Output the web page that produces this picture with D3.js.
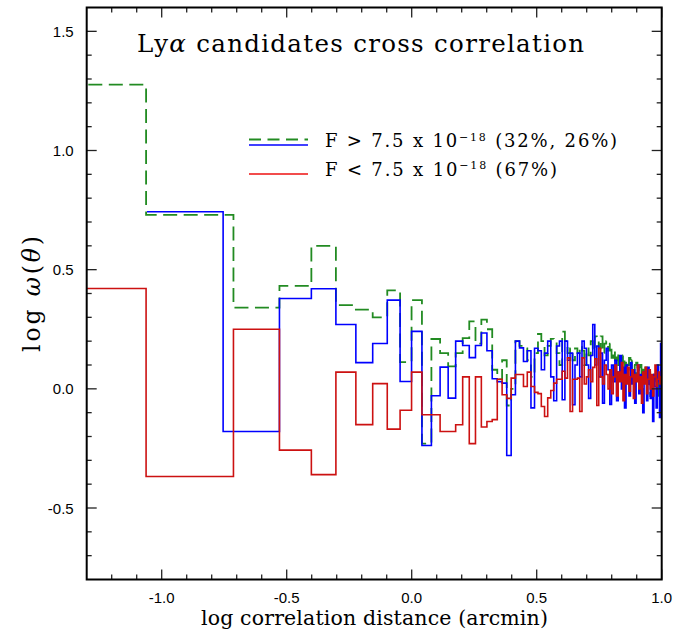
<!DOCTYPE html>
<html><head><meta charset="utf-8">
<script src="https://cdn.jsdelivr.net/npm/d3@7"></script>
<style>body{margin:0;background:#fff}</style>
</head><body><svg id="c" width="688" height="631"></svg>
<script>
// bin centres (arcmin)
const separations = [0.05,0.15,0.25,0.35,0.45,0.55,0.65,0.75,0.85,0.95,
1.05,1.15,1.25,1.35,1.45,1.55,1.65,1.75,1.85,1.95,
2.05,2.15,2.25,2.35,2.45,2.55,2.65,2.75,2.85,2.95,
3.05,3.15,3.25,3.35,3.45,3.55,3.65,3.75,3.85,3.95,
4.05,4.15,4.25,4.35,4.45,4.55,4.65,4.75,4.85,4.95,
5.05,5.15,5.25,5.35,5.45,5.55,5.65,5.75,5.85,5.95,
6.05,6.15,6.25,6.35,6.45,6.55,6.65,6.75,6.85,6.95,
7.05,7.15,7.25,7.35,7.45,7.55,7.65,7.75,7.85,7.95,
8.05,8.15,8.25,8.35,8.45,8.55,8.65,8.75,8.85,8.95,
9.05,9.15,9.25,9.35,9.45,9.55,9.65,9.75,9.85,9.95];
const blueFirstSeparation = 0.124;
const blueSeparations = [blueFirstSeparation].concat(separations.slice(2));

const greenValues = [1.276,0.73,0.341,0.432,0.60,0.351,0.332,0.30,0.413,0.112,
0.372,-0.23,0.209,0.15,0.094,0.15,0.213,0.283,0.19,0.29,
0.25,0.08,0.04,0.12,-0.07,0.0,0.2,0.18,0.17,0.12,
0.05,0.15,0.23,0.2,0.14,0.18,0.21,0.2,0.15,0.1,
0.24,0.2,0.15,0.17,0.12,0.17,0.15,0.18,0.16,0.1,
0.17,0.14,0.2,0.16,0.22,0.2,0.17,0.22,0.15,0.19,
0.2,0.16,0.19,0.13,0.16,0.12,0.15,0.1,0.13,0.11,
0.14,0.09,0.12,0.1,0.13,0.08,0.12,0.1,0.06,0.11,
0.09,0.07,0.1,0.05,0.08,0.04,0.09,0.06,0.02,0.07,
-0.03,0.05,0.01,0.06,0.02,0.08,-0.03,0.04,0.0,0.02];

const blueValues = [0.743,-0.179,0.379,0.42,0.27,0.11,0.19,0.372,0.031,
0.241,-0.238,-0.029,0.091,-0.039,0.2,0.182,0.131,0.182,0.234,
0.16,0.042,0.03,0.024,-0.28,-0.025,0.2,0.172,0.115,0.16,
-0.08,0.17,0.16,0.08,0.15,0.2,0.05,-0.05,0.18,0.2,
-0.046,0.2,0.12,0.15,-0.067,0.1,0.15,0.05,0.2,0.17,
0.1,-0.04,0.14,0.27,0.1,0.18,0.05,0.15,-0.06,0.12,
0.17,0.08,-0.065,0.1,0.03,0.12,-0.05,0.07,0.14,0.0,
0.09,-0.08,0.1,0.04,-0.03,0.11,0.02,0.08,-0.06,0.05,
0.1,-0.02,0.06,0.0,-0.1,0.07,0.03,-0.05,0.09,0.02,
-0.04,0.05,-0.137,0.06,0.01,-0.08,0.1,0.03,-0.12,0.19];

const redValues = [0.421,-0.368,0.25,-0.257,-0.36,0.07,-0.15,0.022,-0.169,-0.09,
0.07,-0.109,-0.109,-0.179,-0.179,-0.151,0.05,-0.23,0.05,-0.16,
-0.137,-0.129,0.04,-0.025,-0.04,0.045,0.06,0.06,0.01,0.07,
0.01,-0.015,-0.02,-0.074,-0.116,-0.038,-0.007,0.024,0.04,0.04,
0.074,0.045,0.13,-0.095,0.04,0.04,0.045,-0.095,0.13,0.02,
0.05,0.08,0.03,0.09,0.126,-0.07,0.17,0.05,0.02,0.1,
0.06,0.0,0.08,-0.02,0.05,0.1,-0.03,0.07,0.03,0.11,
-0.05,0.06,0.02,0.09,-0.01,0.05,0.08,-0.04,0.06,0.03,
0.1,0.0,0.05,-0.06,0.07,0.02,0.09,-0.02,0.04,0.08,
0.0,0.06,-0.03,0.05,0.1,0.01,0.04,0.07,0.02,0.05];

const xTickLabels = ["-1.0","-0.5","0.0","0.5","1.0"];
const yTickLabels = ["-0.5","0.0","0.5","1.0","1.5"];
const xDomain = [-1.3, 1.0];
const yDomain = [-0.8, 1.6];

const svg = d3.select("#c");
const L = 86.7, R = 661.7, T = 7.5, B = 579.5;
const x = d3.scaleLinear().domain(xDomain).range([L, R]);
const y = d3.scaleLinear().domain(yDomain).range([B, T]);

svg.append("rect").attr("width",688).attr("height",631).attr("fill","#fff");
svg.append("clipPath").attr("id","clip").append("rect")
  .attr("x",L).attr("y",T).attr("width",R-L).attr("height",B-T);

function stepPoints(seps, vals){
  const lx = seps.map(s => Math.log10(s));
  const n = vals.length, pts = [];
  for (let i=0;i<n;i++){
    const left = i===0 ? lx[0]-(lx[1]-lx[0])/2 : (lx[i-1]+lx[i])/2;
    const right = i===n-1 ? lx[i]+(lx[i]-lx[i-1])/2 : (lx[i]+lx[i+1])/2;
    pts.push([left, vals[i]], [right, vals[i]]);
  }
  return pts;
}
const line = d3.line().x(d=>x(d[0])).y(d=>y(d[1]));
const g = svg.append("g").attr("clip-path","url(#clip)");
const greenC = "#228b22", blueC = "#0000ff", redC = "#cc1111";
g.append("path").attr("d", line(stepPoints(separations, greenValues)))
  .attr("fill","none").attr("stroke",greenC).attr("stroke-width",1.8).attr("stroke-dasharray","14,6.5");
g.append("path").attr("d", line(stepPoints(blueSeparations, blueValues)))
  .attr("fill","none").attr("stroke",blueC).attr("stroke-width",1.6);
g.append("path").attr("d", line(stepPoints(separations, redValues)))
  .attr("fill","none").attr("stroke",redC).attr("stroke-width",1.6);

// axes with inward ticks on all sides
const tickC = "#222";
const xMajor = xTickLabels.map(Number);
const yMajor = yTickLabels.map(Number);
const xMinor = d3.range(-12, 10).map(k=>k/10).filter(v=>!xMajor.some(m=>Math.abs(m-v)<1e-9));
const yMinor = d3.range(-7, 16).map(k=>k/10).filter(v=>!yMajor.some(m=>Math.abs(m-v)<1e-9));
const axG = svg.append("g").attr("stroke",tickC).attr("stroke-width",1.3);
function xt(v,len){
  axG.append("line").attr("x1",x(v)).attr("x2",x(v)).attr("y1",B).attr("y2",B-len);
  axG.append("line").attr("x1",x(v)).attr("x2",x(v)).attr("y1",T).attr("y2",T+len);
}
function yt(v,len){
  axG.append("line").attr("y1",y(v)).attr("y2",y(v)).attr("x1",L).attr("x2",L+len);
  axG.append("line").attr("y1",y(v)).attr("y2",y(v)).attr("x1",R).attr("x2",R-len);
}
xMajor.forEach(v=>xt(v,10)); xMinor.forEach(v=>xt(v,5));
yMajor.forEach(v=>yt(v,10)); yMinor.forEach(v=>yt(v,5));
svg.append("rect").attr("x",L).attr("y",T).attr("width",R-L).attr("height",B-T)
  .attr("fill","none").attr("stroke","#000").attr("stroke-width",2);

const sans = "'Liberation Sans', Arial, sans-serif";
const serif = "'DejaVu Serif', serif";
svg.append("g").selectAll("text").data(xTickLabels).join("text")
  .attr("x",d=>x(+d)).attr("y",B+23).attr("text-anchor","middle")
  .attr("font-family",sans).attr("font-size",15).text(d=>d);
svg.append("g").selectAll("text").data(yTickLabels).join("text")
  .attr("x",L-13).attr("y",d=>y(+d)+5.5).attr("text-anchor","end")
  .attr("font-family",sans).attr("font-size",15).text(d=>d);

function fit(sel, target){
  const w = sel.node().getComputedTextLength();
  const n = sel.text().length;
  sel.attr("letter-spacing", ((target - w)/(n-1)).toFixed(2));
}
// title
const title = svg.append("text").attr("x",137).attr("y",52).attr("font-family",serif).attr("font-size",24.5);
title.append("tspan").text("Ly");
title.append("tspan").attr("font-style","italic").text("α");
title.append("tspan").text(" candidates cross correlation");
fit(title, 447);

// x label
const xl = svg.append("text").attr("x",201).attr("y",625).attr("font-family",serif).attr("font-size",20.5)
  .text("log correlation distance (arcmin)");
fit(xl, 347);

// y label
const yl = svg.append("text").attr("transform","translate(40,352) rotate(-90)")
  .attr("font-family",serif).attr("font-size",23.5);
yl.append("tspan").text("log ");
yl.append("tspan").attr("font-style","italic").text("ω");
yl.append("tspan").text("(");
yl.append("tspan").attr("font-style","italic").text("θ");
yl.append("tspan").text(")");
fit(yl, 116);

// legend
const lg = svg.append("g");
lg.append("line").attr("x1",249).attr("x2",308).attr("y1",139.5).attr("y2",139.5)
  .attr("stroke",greenC).attr("stroke-width",1.8).attr("stroke-dasharray","12,6.5");
lg.append("line").attr("x1",249).attr("x2",308).attr("y1",145).attr("y2",145)
  .attr("stroke",blueC).attr("stroke-width",1.6);
lg.append("line").attr("x1",249).attr("x2",308).attr("y1",174).attr("y2",174)
  .attr("stroke","#ee1111").attr("stroke-width",1.4);
function legText(yb, sign, tail, target){
  const t = lg.append("text").attr("x",325).attr("y",yb).attr("font-family",serif).attr("font-size",18);
  t.append("tspan").text("F " + sign + " 7.5 x 10");
  t.append("tspan").attr("font-size",11).attr("dy",-6.5).text("−18");
  t.append("tspan").attr("dy",6.5).text(" " + tail);
  fit(t, target);
}
legText(147, ">", "(32%, 26%)", 292);
legText(175.5, "<", "(67%)", 232);
</script></body></html>
